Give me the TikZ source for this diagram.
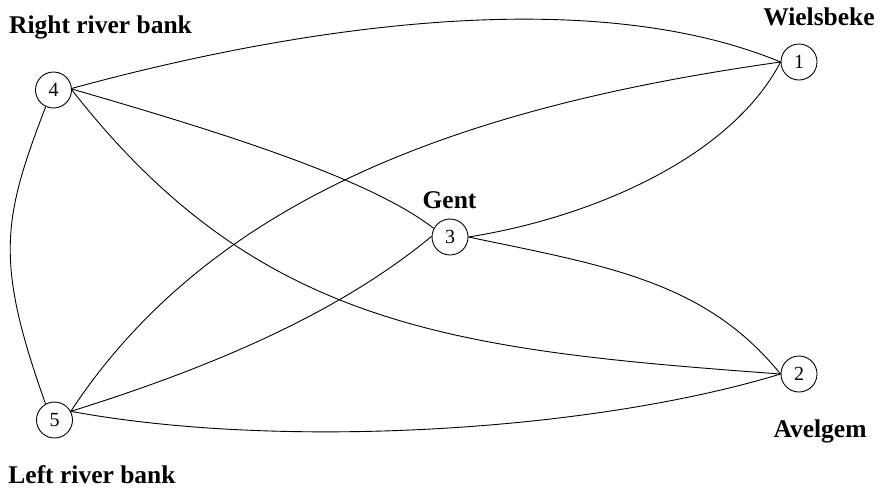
\documentclass[tikz,border=0pt]{standalone}
\usepackage{fontspec}
\setmainfont{Liberation Serif}
\begin{document}
\begin{tikzpicture}[x=1pt,y=-1pt,
  vertex/.style={circle,draw,line width=0.9pt,minimum size=36pt,inner sep=0pt,font=\fontsize{20}{20}\selectfont},
  place/.style={anchor=base,inner sep=0pt,font=\fontsize{25.5}{25.5}\selectfont\bfseries},
  edge/.style={line width=0.9pt}]
\useasboundingbox (0,0) rectangle (880,491);
% vertices
\node[vertex] (n1) at (799,62) {1};
\node[vertex] (n2) at (799,374) {2};
\node[vertex] (n3) at (450,237) {3};
\node[vertex] (n4) at (53.5,90) {4};
\node[vertex] (n5) at (54.5,420) {5};
% labels
\node[place] (lr) at (100.5,33) {Right river bank};
\node[place] (lw) at (819,25) {Wielsbeke};
\node[place] (lg) at (449.5,208) {Gent};
\node[place] (la) at (820,437) {Avelgem};
\node[place] (ll) at (92,483) {Left river bank};
% edges
\draw[edge] (n4.5) .. controls (300,26) and (590,-17) .. (n1.west);
\draw[edge] (n4.3) .. controls (217,131) and (369,178) .. (n3.152);
\draw[edge] (n4.east) .. controls (258,328) and (453,350) .. (n2.west);
\draw[edge] (n4.-115) .. controls (2,220) and (-5,262) .. (n5.119);
\draw[edge] (n5.28) .. controls (215,192) and (475,105) .. (n1.west);
\draw[edge] (n5.28) .. controls (216,366) and (340,312) .. (n3.178);
\draw[edge] (n5.28) .. controls (280,450) and (590,432) .. (n2.west);
\draw[edge] (n3.east) .. controls (589,218) and (730,159) .. (n1.west);
\draw[edge] (n3.east) .. controls (607,266) and (705,281) .. (n2.west);
\end{tikzpicture}
\end{document}
